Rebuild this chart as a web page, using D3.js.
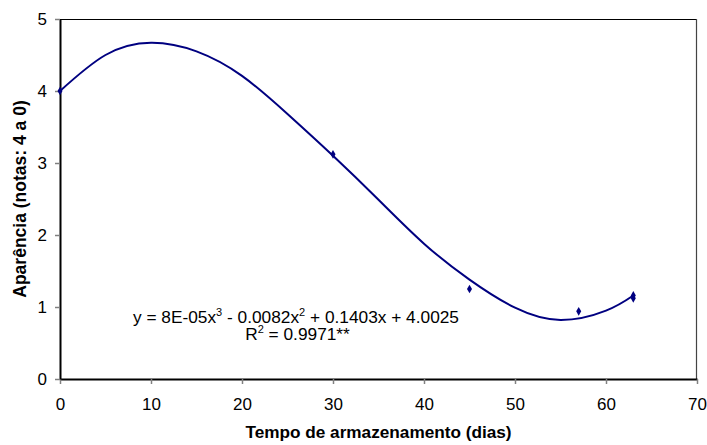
<!DOCTYPE html>
<html>
<head>
<meta charset="utf-8">
<script src="https://cdn.jsdelivr.net/npm/d3@7"></script>
<style>
  body { margin: 0; background: #fff; }
  text { font-family: Arial, "Liberation Sans", sans-serif; }
</style>
</head>
<body>
<script>
// observed points (days, score)
var dias = [0, 30, 45, 57, 63, 63];
var notas = [4.00, 3.12, 1.25, 0.94, 1.12, 1.16];

// fitted curve
var curvaX = [0, 5, 10, 15, 20, 25, 30, 35, 40, 45, 50, 55, 60, 63];
var curvaY = [4.00, 4.50, 4.67, 4.55, 4.21, 3.68, 3.10, 2.49, 1.88, 1.38, 0.99, 0.82, 0.95, 1.16];

var xTicks = [0, 10, 20, 30, 40, 50, 60, 70];
var yTicks = [0, 1, 2, 3, 4, 5];

var W = 707, H = 445;
var mLeft = 60, mRight = 697, mTop = 19, mBottom = 379;
var cor = "#000080";

var svg = d3.select("body").append("svg").attr("width", W).attr("height", H);

var x = d3.scaleLinear().domain([0, 70]).range([mLeft, mRight]);
var y = d3.scaleLinear().domain([0, 5]).range([mBottom, mTop]);

// plot frame (top and right)
svg.append("line").attr("x1", mLeft).attr("x2", mRight).attr("y1", mTop + 0.5).attr("y2", mTop + 0.5)
    .attr("stroke", "#000").attr("stroke-width", 1);
svg.append("line").attr("x1", mRight - 0.5).attr("x2", mRight - 0.5).attr("y1", mTop).attr("y2", mBottom)
    .attr("stroke", "#444").attr("stroke-width", 1.2);

var gx = svg.append("g").attr("transform", "translate(0," + mBottom + ")")
    .call(d3.axisBottom(x).tickValues(xTicks).tickFormat(d3.format("d"))
        .tickSize(5).tickSizeOuter(0).tickPadding(14));
var gy = svg.append("g").attr("transform", "translate(" + mLeft + ",0)")
    .call(d3.axisLeft(y).tickValues(yTicks).tickFormat(d3.format("d"))
        .tickSize(5).tickSizeOuter(0).tickPadding(8));

[gx, gy].forEach(function (g) {
    g.select(".domain").attr("stroke", "#000").attr("stroke-width", 2);
    g.selectAll(".tick line").attr("stroke", "#808080").attr("stroke-width", 1.5);
    g.selectAll(".tick text").attr("fill", "#000").style("font-size", "17px")
        .style("font-family", "Arial, 'Liberation Sans', sans-serif");
});

// trend curve
var pts = curvaX.map(function (d, i) { return [d, curvaY[i]]; });
var linha = d3.line()
    .x(function (d) { return x(d[0]); })
    .y(function (d) { return y(d[1]); })
    .curve(d3.curveNatural);
svg.append("path").datum(pts).attr("d", linha)
    .attr("fill", "none").attr("stroke", cor).attr("stroke-width", 2);

// markers
var diamante = d3.symbol().type(d3.symbolDiamond).size(22);
svg.selectAll("path.pt")
    .data(dias)
    .enter()
    .append("path")
    .attr("class", "pt")
    .attr("d", diamante)
    .attr("transform", function (d, i) { return "translate(" + x(d) + "," + y(notas[i]) + ")"; })
    .attr("fill", cor);

// equation
var eq = svg.append("text").attr("x", 296).attr("y", 323).attr("text-anchor", "middle")
    .style("font-size", "17.3px").attr("fill", "#000");
eq.append("tspan").text("y = 8E-05x");
eq.append("tspan").attr("dy", -7).style("font-size", "11px").text("3");
eq.append("tspan").attr("dy", 7).text(" - 0.0082x");
eq.append("tspan").attr("dy", -7).style("font-size", "11px").text("2");
eq.append("tspan").attr("dy", 7).text(" + 0.1403x + 4.0025");

var r2 = svg.append("text").attr("x", 297.5).attr("y", 340).attr("text-anchor", "middle")
    .style("font-size", "17.3px").attr("fill", "#000");
r2.append("tspan").text("R");
r2.append("tspan").attr("dy", -7).style("font-size", "11px").text("2");
r2.append("tspan").attr("dy", 7).text(" = 0.9971**");

// axis titles
svg.append("text").attr("x", (mLeft + mRight) / 2).attr("y", 438).attr("text-anchor", "middle")
    .style("font-size", "17.2px").style("font-weight", "bold").text("Tempo de armazenamento (dias)");
svg.append("text").attr("transform", "translate(26," + (mTop + mBottom) / 2 + ") rotate(-90)")
    .attr("text-anchor", "middle").style("font-size", "17.5px").style("font-weight", "bold")
    .text("Aparência (notas: 4 a 0)");
</script>
</body>
</html>
